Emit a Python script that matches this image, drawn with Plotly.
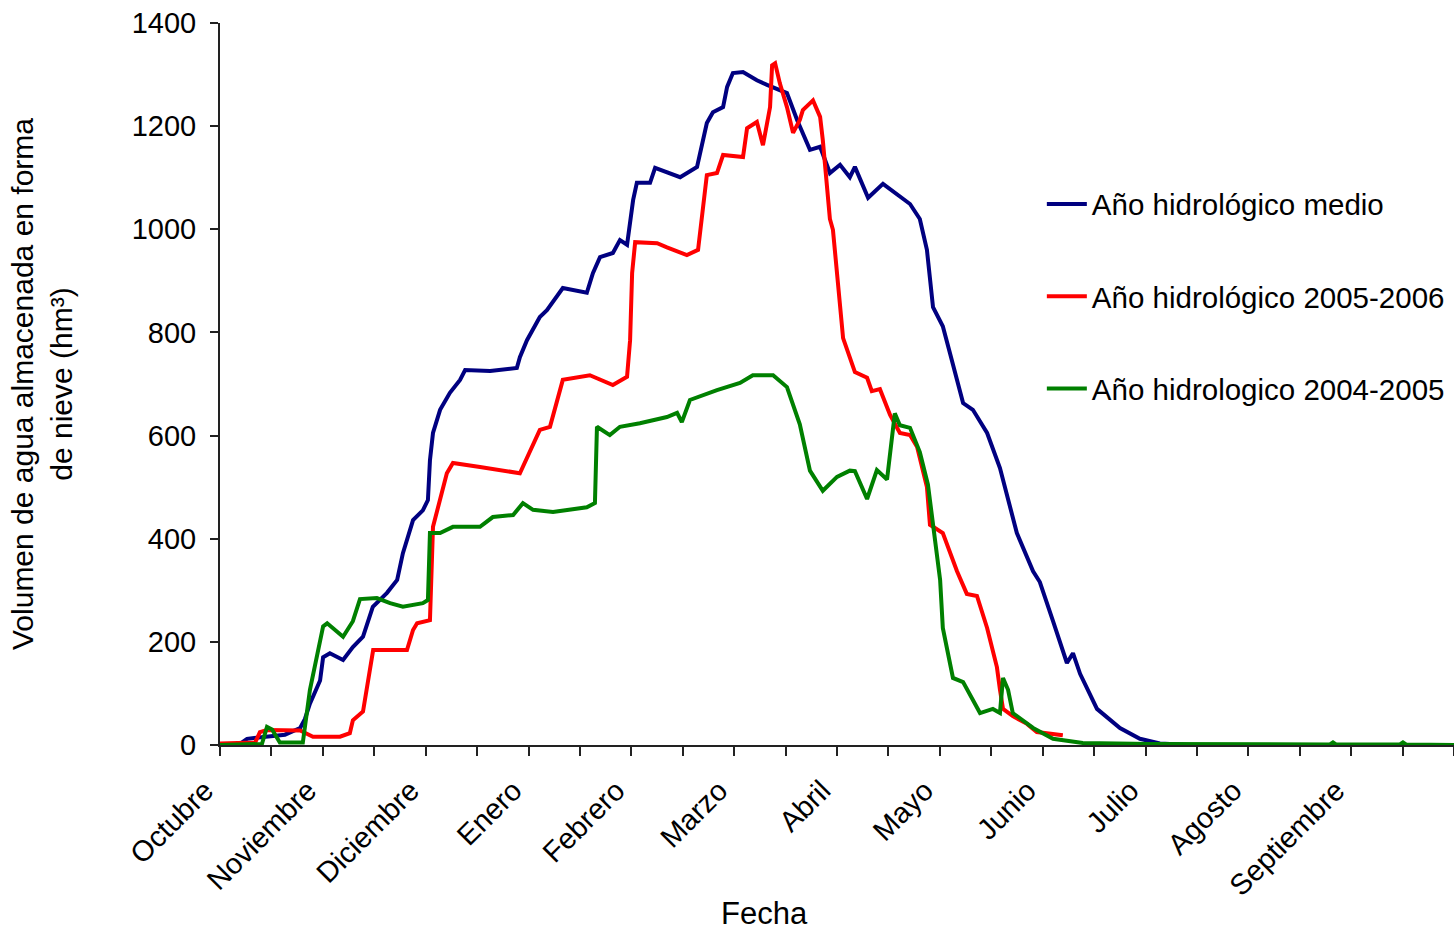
import plotly.graph_objects as go

# Day of hydrological year (0 = 1 Oct) and stored snow water volume (hm3)
dias_medio = [0, 5.9, 8, 12.7, 19.2, 23.7, 25.1, 26.6, 29.6, 30.5, 32.5, 36.4, 39.3, 42.3, 45.2, 49.4,
              52.4, 54.1, 57.1, 60, 61.5, 62.1, 63, 65.1, 68, 71, 72.5, 79.9, 87.8, 88.7, 90.8, 94.6,
              96.7, 101.4, 108.5, 110.3, 112.4, 116.2, 118.3, 120.4, 122.2, 123.3, 127.2, 128.7, 136.1,
              141.1, 142.9, 144, 145.8, 148.8, 150, 151.7, 154.7, 158.8, 161.8, 167.7, 170.7, 174.5,
              177.5, 180.4, 183.4, 186.3, 187.8, 191.7, 196.1, 200.2, 204.1, 207, 209.1, 210.9, 213.8,
              215.9, 219.8, 222.7, 226.9, 230.7, 233.7, 235.7, 240.5, 242.5, 246.4, 250.5, 252.3, 254.4,
              259.4, 266.2, 272.1, 278, 286.9, 365]
vol_medio = [0, 2, 12, 15, 20, 33, 50, 80, 125, 170, 178, 165, 190, 210, 268, 295,
             320, 372, 436, 455, 475, 552, 605, 650, 683, 708, 727, 725, 731, 752, 785, 830,
             843, 886, 877, 915, 946, 954, 979, 970, 1057, 1090, 1090, 1119, 1101,
             1121, 1173, 1206, 1227, 1237, 1276, 1303, 1305, 1289, 1280, 1264, 1212, 1154,
             1160, 1109, 1125, 1101, 1121, 1061, 1088, 1068, 1049, 1020, 960, 849, 812,
             760, 663, 650, 605, 537, 463, 411, 337, 316, 240, 159, 178, 138,
             70, 33, 12, 3, 0, 0]

dias_0506 = [0, 10.4, 11.8, 13.9, 23.7, 26.6, 27.5, 35.5, 38.4, 39.3, 42.3, 45.3, 55.3, 57.1, 58.3,
             62.1, 63, 67.1, 68.9, 76.9, 88.7, 94.6, 97.6, 101.4, 109.4, 116.2, 120.4, 121.3, 121.9,
             122.8, 129.3, 132.2, 138.1, 141.4, 142.9, 144, 147, 148.8, 154.7, 155.9, 158.8, 160.6,
             162.7, 163.3, 164.2, 165.6, 167.7, 169.5, 171.5, 172.4, 175.4, 177.5, 178.3, 179.5,
             180.4, 181.3, 184.3, 187.8, 191.4, 192.8, 195.2, 198.2, 201.1, 204.1, 206.2, 209.1,
             210, 213.8, 218, 220.9, 223.9, 226.9, 229.8, 230.7, 231.6, 234.5, 238.7, 241.6, 249.3]
vol_0506 = [3, 5, 25, 29, 28, 20, 16, 16, 23, 48, 65, 184, 184, 223, 236,
            242, 423, 527, 547, 539, 527, 611, 617, 708, 717, 698, 714, 785, 915,
            975, 973, 965, 950, 960, 1043, 1105, 1109, 1144, 1140, 1196, 1208, 1163,
            1237, 1318, 1322, 1283, 1237, 1187, 1212, 1231, 1250, 1218, 1173, 1076,
            1020, 999, 789, 723, 712, 686, 690, 640, 605, 601, 578, 500,
            427, 411, 337, 293, 289, 227, 151, 107, 70, 56, 41, 25, 19]

dias_0405 = [0, 12.4, 13.9, 15.4, 17.7, 24.5, 26.6, 28.7, 30.5, 31.7, 36.4, 39.3, 41.4, 46.4, 50.3,
             54.1, 60, 61.5, 62.1, 65.1, 68.9, 76.9, 80.7, 86.7, 89.6, 92.6, 98.5, 108.5, 110.9,
             111.5, 115.3, 118.3, 124.2, 132.2, 135.2, 136.6, 139, 147, 153.8, 157.6, 163.6, 167.7,
             171.5, 174.5, 178.3, 182.5, 186.3, 187.8, 191.4, 194.3, 197.3, 199.6, 201.1, 204.1,
             207, 209.4, 210.9, 213, 213.8, 216.8, 219.8, 224.8, 228.6, 230.7, 231.6, 233.1, 234.5,
             240.5, 246.4, 255.2, 275.1, 328.3, 329.2, 330.1, 349, 349.9, 350.8, 365]
vol_0405 = [0, 2, 35, 30, 5, 5, 107, 171, 230, 236, 210, 240, 283, 285, 275,
            268, 275, 281, 411, 411, 423, 423, 442, 446, 469, 456, 452, 461, 469,
            617, 601, 617, 624, 636, 644, 626, 669, 688, 702, 717, 717, 694,
            622, 532, 493, 520, 532, 531, 477, 533, 515, 643, 620, 615,
            568, 505, 430, 320, 227, 130, 122, 62, 70, 62, 130, 107, 62,
            33, 12, 4, 2, 1, 5, 1, 1, 5, 1, 0]

meses = ["Octubre", "Noviembre", "Diciembre", "Enero", "Febrero", "Marzo", "Abril",
         "Mayo", "Junio", "Julio", "Agosto", "Septiembre"]

series = [
    ("Año hidrológico medio", dias_medio, vol_medio, "#000080"),
    ("Año hidrológico 2005-2006", dias_0506, vol_0506, "#FF0000"),
    ("Año hidrologico 2004-2005", dias_0405, vol_0405, "#008000"),
]

FONT = "Liberation Sans, Arial, sans-serif"

fig = go.Figure()
for i, (name, x, y, color) in enumerate(series):
    fig.add_trace(go.Scatter(x=x, y=y, mode="lines", name=name, legendgroup=f"g{i}",
                             line=dict(color=color, width=4)))

tickvals = [i * 365 / 24 for i in range(25)]
ticktext = []
for i in range(25):
    ticktext.append(meses[i // 2] if (i % 2 == 0 and i // 2 < 12) else "")

fig.update_layout(
    width=1454, height=930,
    margin=dict(l=220, r=0, t=23, b=185),
    paper_bgcolor="white", plot_bgcolor="white",
    font=dict(family=FONT, size=29, color="#000000"),
    showlegend=True,
    legend=dict(x=0.666, y=0.785, xanchor="left", yanchor="top",
                bgcolor="rgba(0,0,0,0)", borderwidth=0,
                font=dict(size=29.5), tracegroupgap=51, itemwidth=40),
    xaxis=dict(range=[0, 365], tickmode="array", tickvals=tickvals, ticktext=ticktext,
               tickangle=-45, ticks="outside", ticklen=9, tickwidth=2, tickcolor="#222",
               showline=True, linecolor="#222", linewidth=2, showgrid=False, zeroline=False,
               tickfont=dict(size=29), ticklabelshift=-15, ticklabelstandoff=6),
    yaxis=dict(range=[0, 1400], tickmode="linear", tick0=0, dtick=200,
               ticks="outside", ticklen=8, tickwidth=2, tickcolor="#222",
               showline=True, linecolor="#222", linewidth=2, showgrid=False, zeroline=False,
               tickfont=dict(size=29), ticklabelstandoff=8,
               title=dict(text="Volumen de agua almacenada en forma<br>de nieve (hm³)",
                          font=dict(size=30), standoff=50)),
    annotations=[dict(text="Fecha", xref="paper", yref="paper",
                      x=(764 - 220) / 1234, y=(745 - 913) / 722,
                      xanchor="center", yanchor="middle", showarrow=False,
                      font=dict(size=31))],
)

fig.write_html("out.html")
